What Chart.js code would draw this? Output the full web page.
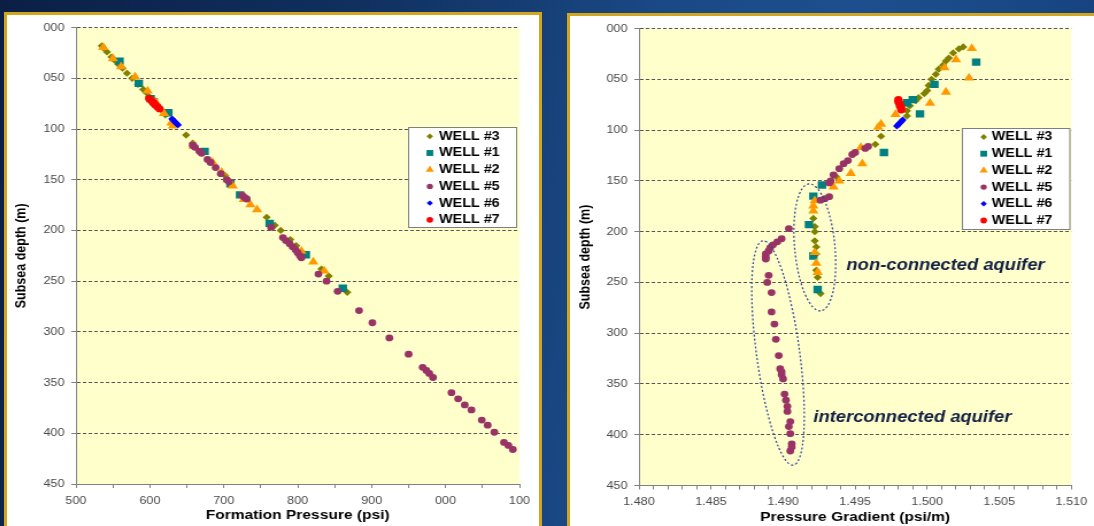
<!DOCTYPE html>
<html>
<head>
<meta charset="utf-8">
<script src="https://cdn.jsdelivr.net/npm/chart.js@4.4.1/dist/chart.umd.min.js"></script>
<style>
  html, body { margin: 0; padding: 0; }
  body {
    width: 1094px; height: 526px; overflow: hidden; position: relative;
    background: linear-gradient(100deg, #0b1f45 0%, #10305f 30%, #1a4884 55%, #1d4f8e 72%, #15407a 100%);
  }
  .panel { position: absolute; background: #fff; border: 3px solid #d2a51f; box-sizing: border-box; overflow: hidden; }
  #leftPanel { left: 4px; top: 12px; width: 538px; height: 530px; }
  #rightPanel { left: 567px; top: 13px; width: 540px; height: 530px; }
  canvas { position: absolute; left: 0; top: 0; }
</style>
</head>
<body>
<div class="panel" id="leftPanel"><canvas id="pressureChart"></canvas></div>
<div class="panel" id="rightPanel"><canvas id="gradientChart"></canvas></div>
<script>
// tick labels as printed on the original slide
const depthTickLabels = ["000", "050", "100", "150", "200", "250", "300", "350", "400", "450"];
const pressureTickLabels = ["500", "600", "700", "800", "900", "000", "100"];
const gradientTickLabels = ["1.480", "1.485", "1.490", "1.495", "1.500", "1.505", "1.510"];

// WELL #3
const well3Depth = [18, 20, 24, 29, 32, 36, 40, 45, 50, 56, 61, 64, 68, 71, 76, 81, 86, 106, 114, 146, 187, 195, 200, 209, 215, 222, 238, 245, 261];
const well3Pressure = [535, 537, 542, 548, 552, 557, 563, 569, 576, 584, 591, 595, 599, 603, 609, 615, 621, 649, 658, 702, 758, 769, 777, 790, 798, 807, 832, 842, 867];
const well3Gradient = [1.5025, 1.5022, 1.5018, 1.5015, 1.5013, 1.5011, 1.5008, 1.5006, 1.5003, 1.5001, 1.5000, 1.4998, 1.4994, 1.4992, 1.4988, 1.4986, 1.4986, 1.4968, 1.4964, 1.4937, 1.4921, 1.4922, 1.4922, 1.4922, 1.4923, 1.4923, 1.4923, 1.4924, 1.4926];

// WELL #1
const well1Depth = [33, 55, 70, 73, 84, 122, 154, 165, 193, 224, 257];
const well1Pressure = [559, 585, 601, 605, 625, 674, 709, 722, 762, 811, 861];
const well1Gradient = [1.5034, 1.5005, 1.4990, 1.4986, 1.4995, 1.4970, 1.4927, 1.4921, 1.4918, 1.4921, 1.4924];

// WELL #2
const well2Depth = [19.5, 30.5, 38.5, 48.5, 62.5, 73.5, 84.5, 94, 97, 117, 133, 142.5, 150, 156, 169.5, 174.5, 179.5, 220.5, 231, 240];
const well2Pressure = [537, 550, 561, 580, 597, 608, 619, 629, 631, 659, 685, 697, 705, 712, 727, 736, 745, 805, 821, 836];
const well2Gradient = [1.5031, 1.5020, 1.5012, 1.5029, 1.5013, 1.5002, 1.4978, 1.4968, 1.4966, 1.4954, 1.4955, 1.4947, 1.4939, 1.4935, 1.4922, 1.4921, 1.4921, 1.4922, 1.4923, 1.4924];

// WELL #5
const well5Depth = [116, 118, 122, 124, 130, 133, 138, 144, 150, 152, 165.5, 167.5, 169, 197, 207, 210, 213, 216, 219, 222, 225, 227, 243, 250, 260, 279, 291, 306, 322, 335, 338, 341, 345, 360, 366, 372, 377, 387, 392, 399, 409, 412, 416];
const well5Pressure = [658, 661, 667, 670, 678, 682, 689, 696, 704, 707, 725, 728, 731, 764, 780, 784, 789, 793, 797, 800, 803, 805, 828, 839, 854, 883, 901, 924, 950, 969, 974, 978, 983, 1008, 1017, 1026, 1035, 1049, 1057, 1066, 1079, 1085, 1091];
const well5Gradient = [1.4959, 1.4957, 1.4950, 1.4948, 1.4945, 1.4942, 1.4939, 1.4935, 1.4933, 1.4932, 1.4932, 1.4929, 1.4926, 1.4904, 1.4899, 1.4896, 1.4893, 1.4891, 1.4890, 1.4888, 1.4888, 1.4888, 1.4890, 1.4889, 1.4892, 1.4892, 1.4894, 1.4895, 1.4897, 1.4898, 1.4899, 1.4899, 1.4900, 1.4901, 1.4902, 1.4903, 1.4903, 1.4905, 1.4904, 1.4905, 1.4906, 1.4906, 1.4905];

// WELL #6
const well6Depth = [90, 91.5, 93, 94.5, 96];
const well6Pressure = [630, 632, 634, 636, 638];
const well6Gradient = [1.4983, 1.4982, 1.4981, 1.4980, 1.4979];

// WELL #7
const well7Depth = [70, 72, 74, 76, 78, 80];
const well7Pressure = [599, 602, 605, 607, 610, 613];
const well7Gradient = [1.4980, 1.4980, 1.4981, 1.4981, 1.4982, 1.4982];

// aquifer groupings on the gradient plot (ends of the ring, half width in psi/m)
const aquiferRingTop = [[1.4918, 153], [1.4886, 209]];
const aquiferRingBottom = [[1.4926, 278], [1.4907, 430]];
const aquiferRingHalfWidth = [0.0014, 0.0015];
const aquiferLabels = ["non-connected aquifer", "interconnected aquifer"];
const aquiferLabelAt = [[1.4944, 233], [1.4921, 383]];

// the slide image is a bit wider than tall, canvases get stretched sideways
const STRETCH = 1.15;
const FONT = '"Liberation Sans", Arial, sans-serif';
Chart.defaults.font.family = FONT;

function wellSet(label, xs, depths, color, style, radius, order) {
  return {
    label: label,
    data: depths.map((d, i) => ({ x: xs[i], y: d })),
    pointStyle: style,
    pointRadius: radius,
    pointHoverRadius: radius,
    pointBorderWidth: 0,
    backgroundColor: color,
    borderColor: color,
    order: order,
  };
}

function wellSets(key) {
  const pick = (p, g) => (key === "pressure" ? p : g);
  return [
    wellSet("WELL #3", pick(well3Pressure, well3Gradient), well3Depth, "#808000", "rectRot", 3.6, 6),
    wellSet("WELL #1", pick(well1Pressure, well1Gradient), well1Depth, "#008080", "rect", 5.2, 5),
    wellSet("WELL #2", pick(well2Pressure, well2Gradient), well2Depth, "#ff9900", "triangle", 5.2, 4),
    wellSet("WELL #5", pick(well5Pressure, well5Gradient), well5Depth, "#993366", "circle", 3.4, 3),
    wellSet("WELL #6", pick(well6Pressure, well6Gradient), well6Depth, "#0000ff", "rectRot", 3.4, 2),
    wellSet("WELL #7", pick(well7Pressure, well7Gradient), well7Depth, "#ff0000", "circle", 3.6, 1),
  ];
}

// yellow plot area
const plotFill = {
  id: "plotFill",
  beforeDraw(chart) {
    const { ctx, chartArea: a } = chart;
    ctx.save();
    ctx.fillStyle = "#ffffcc";
    ctx.fillRect(a.left, a.top, a.right - a.left, a.bottom - a.top);
    ctx.restore();
  },
};

// boxed legend sitting inside the plot, like the Excel one
const wellLegend = {
  id: "wellLegend",
  afterDraw(chart, args, opts) {
    const { ctx, chartArea: a } = chart;
    const left = Math.round(a.right - opts.right - opts.width);
    const top = Math.round(a.top + opts.top);
    ctx.save();
    ctx.fillStyle = "#ffffff";
    ctx.fillRect(left, top, opts.width, opts.height);
    ctx.strokeStyle = "#7f7f7f";
    ctx.lineWidth = 1;
    ctx.strokeRect(left + 0.5, top + 0.5, opts.width, opts.height);
    ctx.font = "bold 12.5px " + FONT;
    ctx.textBaseline = "middle";
    chart.data.datasets.forEach((ds, i) => {
      const y = top + opts.firstRow + i * opts.rowGap;
      ctx.fillStyle = ds.backgroundColor;
      Chart.helpers.drawPoint(ctx, { pointStyle: ds.pointStyle, radius: ds.pointRadius * 0.8, borderWidth: 0 }, left + opts.markerX, y);
      ctx.fillStyle = "#000000";
      ctx.fillText(ds.label, left + opts.textX, y);
    });
    ctx.restore();
  },
};

// dashed rings and their captions on the gradient plot
const aquiferNotes = {
  id: "aquiferNotes",
  afterDatasetsDraw(chart) {
    const { ctx, scales } = chart;
    const sx = scales.x, sy = scales.y;
    ctx.save();
    ctx.strokeStyle = "#34449a";
    ctx.lineWidth = 1.2;
    ctx.setLineDash([2, 2]);
    aquiferRingTop.forEach((t, i) => {
      const b = aquiferRingBottom[i];
      const x1 = sx.getPixelForValue(t[0]), y1 = sy.getPixelForValue(t[1]);
      const x2 = sx.getPixelForValue(b[0]), y2 = sy.getPixelForValue(b[1]);
      const rx = Math.hypot(x2 - x1, y2 - y1) / 2;
      const ry = Math.abs(sx.getPixelForValue(t[0] + aquiferRingHalfWidth[i]) - x1);
      ctx.beginPath();
      ctx.ellipse((x1 + x2) / 2, (y1 + y2) / 2, rx, ry, Math.atan2(y2 - y1, x2 - x1), 0, 2 * Math.PI);
      ctx.stroke();
    });
    ctx.setLineDash([]);
    ctx.fillStyle = "#131f44";
    ctx.font = "italic bold 16px " + FONT;
    ctx.textBaseline = "middle";
    ctx.textAlign = "left";
    aquiferLabels.forEach((text, i) => {
      ctx.fillText(text, sx.getPixelForValue(aquiferLabelAt[i][0]), sy.getPixelForValue(aquiferLabelAt[i][1]));
    });
    ctx.restore();
  },
};

function depthAxis(titlePad) {
  return {
    type: "linear",
    reverse: true,
    min: 0,
    max: 450,
    afterFit: (s) => { s.width = 60; },
    border: { color: "#808080", width: 1, dash: [3, 2] },
    grid: { color: "#555555", lineWidth: 1, tickLength: 4, tickColor: "#808080", tickBorderDash: [] },
    ticks: {
      stepSize: 50,
      padding: 6,
      color: "#4a4a4a",
      font: { size: 11 },
      callback: (v) => depthTickLabels[Math.round(v / 50)],
    },
    title: {
      display: true,
      text: "Subsea depth (m)",
      color: "#000",
      font: { size: 12.5, weight: "bold" },
      padding: { top: titlePad, bottom: 0 },
    },
  };
}

function makeChart(id, cssWidth, cssHeight, xAxis, padding, legendOpts, extraPlugins) {
  const canvas = document.getElementById(id);
  canvas.width = Math.round(cssWidth / STRETCH);
  canvas.height = cssHeight;
  canvas.style.width = (canvas.width * STRETCH) + "px";
  canvas.style.height = cssHeight + "px";
  return new Chart(canvas, {
    type: "scatter",
    data: { datasets: wellSets(id === "pressureChart" ? "pressure" : "gradient") },
    options: {
      responsive: false,
      animation: false,
      events: [],
      layout: { padding: padding },
      scales: { x: xAxis, y: depthAxis(legendOpts.yTitlePad) },
      plugins: {
        legend: { display: false },
        tooltip: { enabled: false },
        wellLegend: legendOpts,
      },
    },
    plugins: [plotFill, wellLegend].concat(extraPlugins),
  });
}

// Formation pressure vs depth
makeChart(
  "pressureChart", 532, 511,
  {
    type: "linear",
    min: 500,
    max: 1100,
    afterFit: (s) => { s.height = 42; },
    border: { color: "#808080", width: 1 },
    grid: { drawOnChartArea: false, tickLength: 4, color: "#808080", tickColor: "#808080" },
    ticks: {
      stepSize: 50,
      autoSkip: false,
      maxRotation: 0,
      minRotation: 0,
      padding: 6,
      color: "#4a4a4a",
      font: { size: 11 },
      callback: (v) => (v % 100 === 0 ? pressureTickLabels[(v - 500) / 100] : ""),
    },
    title: {
      display: true,
      text: "Formation Pressure (psi)",
      color: "#000",
      font: { size: 13.5, weight: "bold" },
      padding: { top: 0, bottom: 2.9 },
    },
  },
  { top: 10, right: 17, bottom: 0, left: 0 },
  { right: 2.6, top: 99, width: 94, height: 100, firstRow: 9.3, rowGap: 16.7, markerX: 19, textX: 27, yTitlePad: 4.7 },
  []
);

// Pressure gradient vs depth
makeChart(
  "gradientChart", 524, 510,
  {
    type: "linear",
    min: 1.48,
    max: 1.51,
    afterFit: (s) => { s.height = 40.5; },
    border: { color: "#808080", width: 1 },
    grid: { drawOnChartArea: false, tickLength: 4, color: "#808080", tickColor: "#808080" },
    ticks: {
      stepSize: 0.001,
      autoSkip: false,
      maxRotation: 0,
      minRotation: 0,
      padding: 6,
      color: "#4a4a4a",
      font: { size: 11 },
      callback: (v) => {
        const k = Math.round((v - 1.48) * 1000);
        return k % 5 === 0 ? gradientTickLabels[k / 5] : "";
      },
    },
    title: {
      display: true,
      text: "Pressure Gradient (psi/m)",
      color: "#000",
      font: { size: 13.5, weight: "bold" },
      padding: { top: 0, bottom: 0.9 },
    },
  },
  { top: 11.5, right: 15, bottom: 0, left: 0 },
  { right: 2.2, top: 99.5, width: 93.5, height: 101, firstRow: 9, rowGap: 16.7, markerX: 19, textX: 26, yTitlePad: 5.9 },
  [aquiferNotes]
);
</script>
</body>
</html>
